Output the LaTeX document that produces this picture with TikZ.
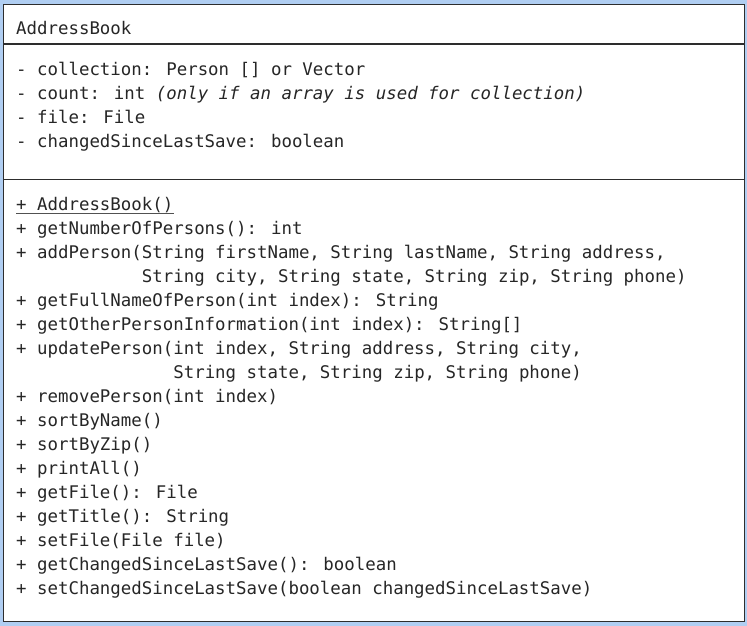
\documentclass[tikz,border=0pt]{standalone}
\usepackage{fontspec}
\newfontfamily\umlmono{DejaVu Sans Mono}
\definecolor{bgblue}{RGB}{176,206,242}
\definecolor{ink}{RGB}{38,38,38}
\definecolor{frame}{RGB}{45,45,45}
\begin{document}
\begin{tikzpicture}[x=1pt,y=-1pt,
  txt/.style={anchor=base west, inner sep=0pt, font=\umlmono\fontsize{17.4}{20}\selectfont, text=ink},
  rule/.style={draw=frame, line width=1.4pt}]
\useasboundingbox (0,0) rectangle (747,626);
\fill[bgblue] (0,0) rectangle (747,626);
\draw[rule, fill=white] (3.5,4.3) rectangle (744.3,621.7);
\draw[rule] (3.5,44) -- (744.3,44);
\draw[rule] (3.5,179.5) -- (744.3,179.5);
% title
\node[txt] (title) at (16,34.5) {AddressBook};
% attributes
\node[txt] (at1) at (16,75.5) {- collection: Person [] or Vector};
\node[txt] (at2) at (16,99.5) {- count: int \itshape(only if an array is used for collection)};
\node[txt] (at3) at (16,123.5) {- file: File};
\node[txt] (at4) at (16,147.5) {- changedSinceLastSave: boolean};
% methods
\node[txt] (m1) at (16,210) {+ AddressBook()};
\draw[draw=ink!80, line width=0.9pt] ([yshift=-3pt]m1.base west) -- ([yshift=-3pt]m1.base east);
\node[txt] (m2) at (16,234.06) {+ getNumberOfPersons(): int};
\node[txt] (m3) at (16,258.12) {+ addPerson(String firstName, String lastName, String address,};
\node[txt] (m3b) at (16,282.18) {\phantom{+ addPerson(}String city, String state, String zip, String phone)};
\node[txt] (m4) at (16,306.24) {+ getFullNameOfPerson(int index): String};
\node[txt] (m5) at (16,330.3) {+ getOtherPersonInformation(int index): String[]};
\node[txt] (m6) at (16,354.36) {+ updatePerson(int index, String address, String city,};
\node[txt] (m6b) at (16,378.42) {\phantom{+ updatePerson(}String state, String zip, String phone)};
\node[txt] (m7) at (16,402.48) {+ removePerson(int index)};
\node[txt] (m8) at (16,426.54) {+ sortByName()};
\node[txt] (m9) at (16,450.6) {+ sortByZip()};
\node[txt] (m10) at (16,474.66) {+ printAll()};
\node[txt] (m11) at (16,498.72) {+ getFile(): File};
\node[txt] (m12) at (16,522.78) {+ getTitle(): String};
\node[txt] (m13) at (16,546.84) {+ setFile(File file)};
\node[txt] (m14) at (16,570.9) {+ getChangedSinceLastSave(): boolean};
\node[txt] (m15) at (16,594.96) {+ setChangedSinceLastSave(boolean changedSinceLastSave)};
\end{tikzpicture}
\end{document}
